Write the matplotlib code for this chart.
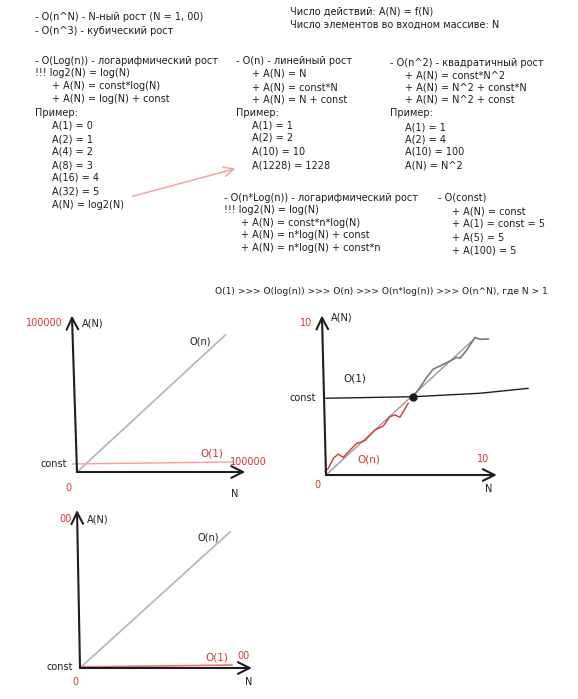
import matplotlib
matplotlib.use('Agg')
import matplotlib.pyplot as plt

W, H = 578, 699
fig = plt.figure(figsize=(W / 100, H / 100), dpi=100)
fig.patch.set_facecolor('white')

FONT = ['DejaVu Sans']
FS = 7
INK = '#1e1e1e'
RED = '#e03131'
PINK = '#f4a3a3'
GRAY = '#b8b8b8'

# ---------------- text content ----------------
header_left = ["- O(n^N) - N-ный рост (N = 1, 00)",
               "- O(n^3) - кубический рост"]
header_right = ["Число действий: A(N) = f(N)",
                "Число элементов во входном массиве: N"]
log_block = ["- O(Log(n)) - логарифмический рост",
             "!!! log2(N) = log(N)",
             "    + A(N) = const*log(N)",
             "    + A(N) = log(N) + const",
             "Пример:",
             "    A(1) = 0", "    A(2) = 1", "    A(4) = 2", "    A(8) = 3",
             "    A(16) = 4", "    A(32) = 5", "    A(N) = log2(N)"]
lin_block = ["- O(n) - линейный рост",
             "    + A(N) = N",
             "    + A(N) = const*N",
             "    + A(N) = N + const",
             "Пример:",
             "    A(1) = 1", "    A(2) = 2", "    A(10) = 10", "    A(1228) = 1228"]
sq_block = ["- O(n^2) - квадратичный рост",
            "    + A(N) = const*N^2",
            "    + A(N) = N^2 + const*N",
            "    + A(N) = N^2 + const",
            "Пример:",
            "    A(1) = 1", "    A(2) = 4", "    A(10) = 100", "    A(N) = N^2"]
nlog_block = ["- O(n*Log(n)) - логарифмический рост",
              "!!! log2(N) = log(N)",
              "    + A(N) = const*n*log(N)",
              "    + A(N) = n*log(N) + const",
              "    + A(N) = n*log(N) + const*n"]
const_block = ["- O(const)",
               "    + A(N) = const",
               "    + A(1) = const = 5",
               "    + A(5) = 5",
               "    + A(100) = 5"]
order_line = "O(1) >>> O(log(n)) >>> O(n) >>> O(n*log(n)) >>> O(n^N), где N > 1"

# ---------------- diagram data ----------------
# diagram 1 (large scale)
d1_axis_x_end = 110000
d1_axis_y_top = (-3300, 105000)
d1_on_N = [0, 97000]
d1_on_A = [0, 92000]
d1_o1_N = [-2600, 102000]
d1_o1_A = [5400, 6700]

# diagram 2 (small scale, crossing)
d2_axis_x_end = 10.95
d2_axis_y_top = (-0.26, 10.5)
d2_o1_N = [0.0, 5.6, 9.9, 12.95]
d2_o1_A = [5.05, 5.15, 5.38, 5.7]
d2_cross = (5.6, 5.15)
d2_lin_N = [0.0, 9.55]
d2_lin_A = [0.0, 9.0]
d2_up_N = [5.6, 6.03, 6.46, 6.88, 7.52, 7.95, 8.38, 8.59, 9.02, 9.55, 9.87, 10.4]
d2_up_A = [5.15, 5.77, 6.43, 6.97, 7.28, 7.5, 7.74, 7.68, 8.22, 9.05, 8.93, 8.95]
d2_red_N = [-0.06, 0.15, 0.47, 0.79, 1.11, 1.54, 1.97, 2.5, 2.82, 3.14, 3.67,
            4.1, 4.42, 4.74, 5.27]
d2_red_A = [0.22, 0.44, 1.1, 1.38, 1.16, 1.64, 2.08, 2.26, 2.63, 2.96, 3.22,
            3.84, 3.95, 3.8, 4.72]

# diagram 3 (scale 100)
d3_axis_x_end = 109.5
d3_axis_y_top = (-1.9, 106)
d3_on_N = [0, 95.5]
d3_on_A = [0, 91.3]
d3_o1_N = [0, 96.8]
d3_o1_A = [0.7, 2.0]


def txt(x, y, s, color=INK, ha='left', size=FS):
    fig.text(x / W, 1 - y / H, s, color=color, ha=ha, va='center',
             fontsize=size, family=FONT)


def block(lines, x, x_ind, ys):
    for s, y in zip(lines, ys):
        if s.startswith("    "):
            txt(x_ind, y, s.strip())
        else:
            txt(x, y, s)


block(header_left, 35, 35, [17, 31])
block(header_right, 290, 290, [12, 24.5])
block(log_block, 35, 52, [61, 73, 86, 99, 113, 126, 139, 152, 165, 178, 191, 205])
block(lin_block, 236, 252, [61, 74, 87, 99, 113, 126, 138, 151, 165])
block(sq_block, 390, 405, [63, 75, 87, 99, 113, 127, 140, 152, 165])
block(nlog_block, 224, 241, [198, 210, 223, 235, 248])
block(const_block, 438, 452, [198, 211, 224, 237, 250])
txt(215, 291, order_line, size=6.6)

# pink arrow from log block to linear example
fig.patches.append(matplotlib.patches.FancyArrowPatch(
    (130 / W, 1 - 197 / H), (238 / W, 1 - 168 / H), transform=fig.transFigure,
    arrowstyle='->,head_length=0.5,head_width=0.25', mutation_scale=14,
    color=PINK, lw=1.1))


def diagram(left, top, right, bottom, ox, oy, sx, sy):
    ax = fig.add_axes([left / W, 1 - bottom / H, (right - left) / W,
                       (bottom - top) / H])
    ax.set_xlim((left - ox) / sx, (right - ox) / sx)
    ax.set_ylim((oy - bottom) / sy, (oy - top) / sy)
    ax.axis('off')
    return ax


def axes_arrows(ax, x_end, y_top):
    kw = dict(arrowstyle='->,head_length=0.7,head_width=0.35',
              lw=1.5, color=INK, mutation_scale=12, shrinkA=0, shrinkB=0)
    ax.annotate('', xy=(x_end, 0), xytext=(0, 0), arrowprops=kw,
                annotation_clip=False)
    ax.annotate('', xy=y_top, xytext=(0, 0), arrowprops=kw,
                annotation_clip=False)


# ---- diagram 1 ----
ax1 = diagram(0, 300, 290, 505, 77, 472, 0.00153, 0.00149)
ax1.plot(d1_on_N, d1_on_A, color=GRAY, lw=1.3, solid_capstyle='round')
ax1.plot(d1_o1_N, d1_o1_A, color='#ff9a9a', lw=1.0)
axes_arrows(ax1, d1_axis_x_end, d1_axis_y_top)
txt(63, 323, "100000", color=RED, ha='right')
txt(82, 323, "A(N)")
txt(190, 342, "O(n)")
txt(67, 464, "const", ha='right')
txt(200, 453, "O(1)", color=RED, size=7.5)
txt(230, 462, "100000", color=RED)
txt(68, 488, "0", color=RED, ha='center')
txt(231, 494, "N")

# ---- diagram 2 ----
ax2 = diagram(280, 300, 578, 505, 326, 475, 15.6, 15.2)
ax2.plot(d2_lin_N, d2_lin_A, color='#9a9a9a', lw=1.0)
ax2.plot(d2_up_N, d2_up_A, color='#7a7a7a', lw=1.2)
ax2.plot(d2_red_N, d2_red_A, color=RED, lw=1.0)
ax2.plot(d2_o1_N, d2_o1_A, color=INK, lw=1.0)
ax2.plot([d2_cross[0]], [d2_cross[1]], 'o', color=INK, ms=5)
axes_arrows(ax2, d2_axis_x_end, d2_axis_y_top)
txt(306, 323, "10", color=RED, ha='center')
txt(331, 317, "A(N)")
txt(290, 398, "const")
txt(343, 378, "O(1)", size=7.5)
txt(357, 460, "O(n)", color=RED, size=7.5)
txt(477, 459, "10", color=RED)
txt(317, 485, "0", color=RED, ha='center')
txt(485, 489, "N")

# ---- diagram 3 ----
ax3 = diagram(0, 500, 290, 699, 80, 668, 1.57, 1.49)
ax3.plot(d3_on_N, d3_on_A, color=GRAY, lw=1.3)
ax3.plot(d3_o1_N, d3_o1_A, color='#f07070', lw=1.2)
axes_arrows(ax3, d3_axis_x_end, d3_axis_y_top)
txt(72, 519, "00", color=RED, ha='right')
txt(87, 520, "A(N)")
txt(197, 537, "O(n)")
txt(73, 667, "const", ha='right')
txt(205, 658, "O(1)", color=RED, size=7.5)
txt(237, 656, "00", color=RED)
txt(75, 682, "0", color=RED, ha='center')
txt(245, 682, "N")

fig.savefig('out.png', dpi=100, facecolor='white')
